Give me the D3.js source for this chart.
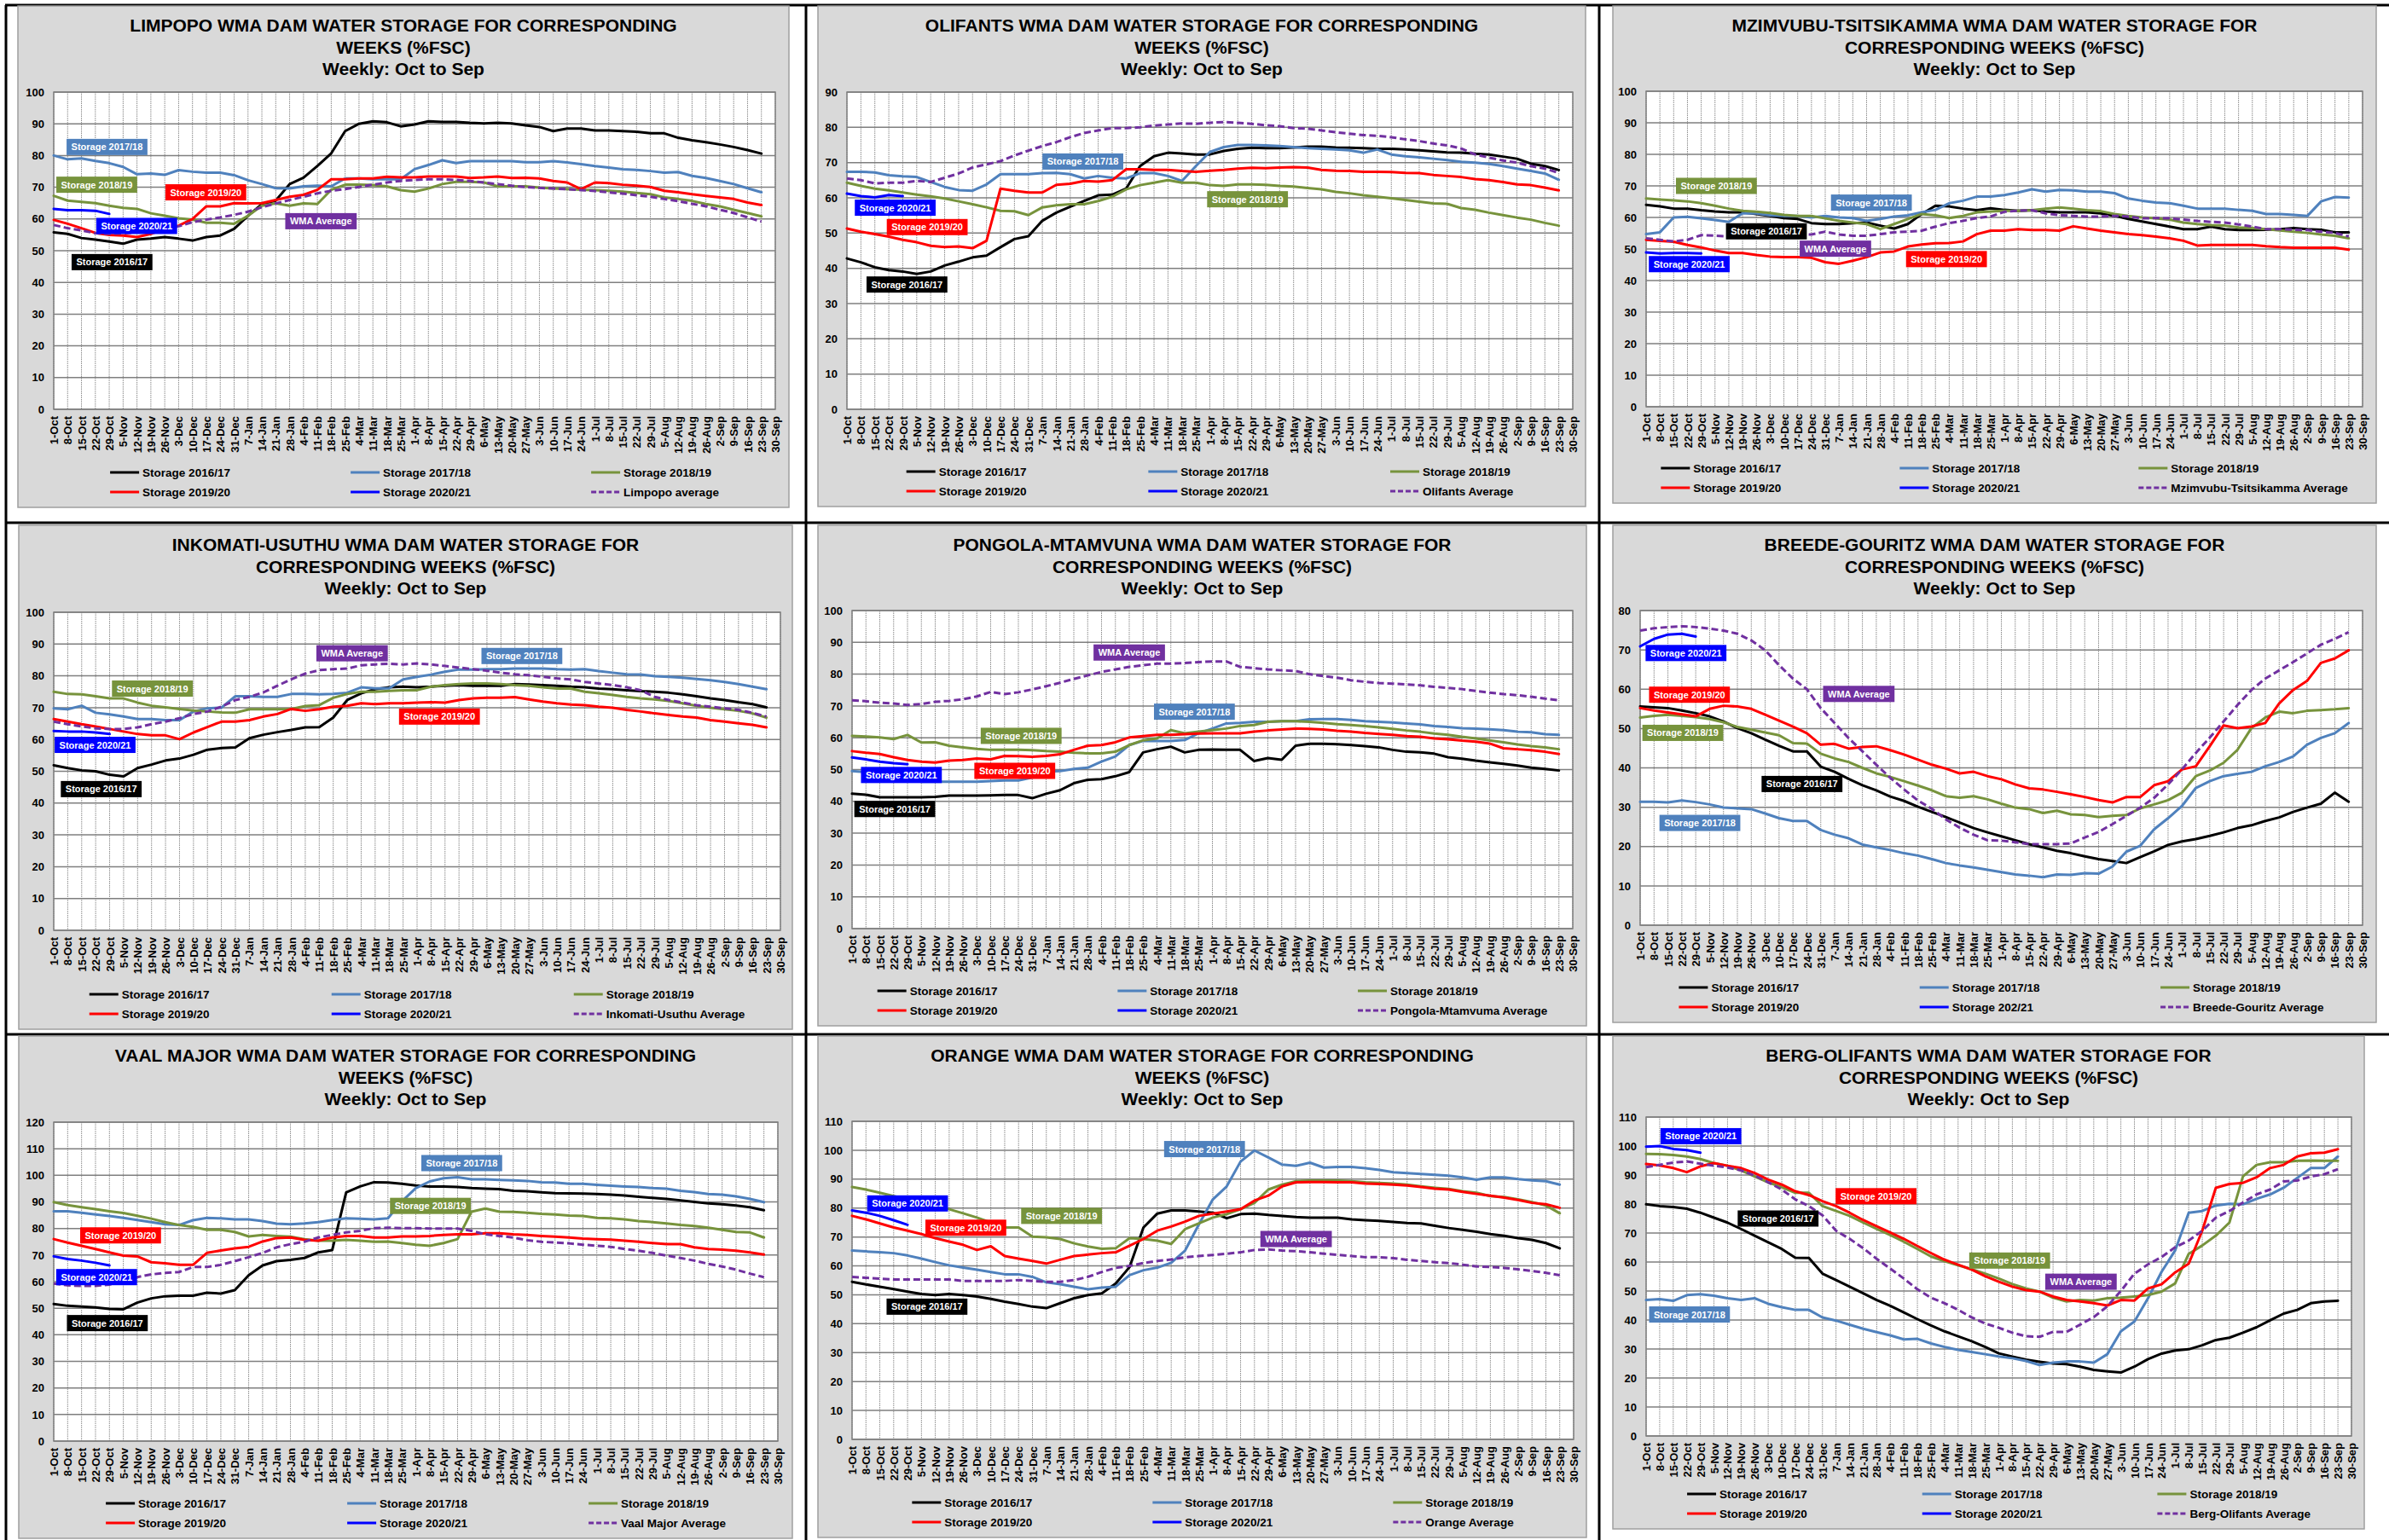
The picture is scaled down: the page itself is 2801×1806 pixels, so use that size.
<!DOCTYPE html>
<html>
<head>
<meta charset="utf-8">
<script src="https://cdn.jsdelivr.net/npm/d3@7"></script>
<style>
  html, body { margin: 0; padding: 0; background: #ffffff; }
  svg { display: block; }
  text { font-family: "Liberation Sans", Arial, sans-serif; font-weight: bold; }
</style>
</head>
<body>
<svg id="chart" width="2801" height="1806"></svg>
<script>
// ---------- categories ----------
const weeks = ["1-Oct","8-Oct","15-Oct","22-Oct","29-Oct","5-Nov","12-Nov","19-Nov","26-Nov","3-Dec",
  "10-Dec","17-Dec","24-Dec","31-Dec","7-Jan","14-Jan","21-Jan","28-Jan","4-Feb","11-Feb",
  "18-Feb","25-Feb","4-Mar","11-Mar","18-Mar","25-Mar","1-Apr","8-Apr","15-Apr","22-Apr",
  "29-Apr","6-May","13-May","20-May","27-May","3-Jun","10-Jun","17-Jun","24-Jun","1-Jul",
  "8-Jul","15-Jul","22-Jul","29-Jul","5-Aug","12-Aug","19-Aug","26-Aug","2-Sep","9-Sep",
  "16-Sep","23-Sep","30-Sep"];
const seasons = ["Storage 2016/17","Storage 2017/18","Storage 2018/19","Storage 2019/20","Storage 2020/21"];

// ---------- Limpopo ----------
const limpopo_1617 = [55.8,55.3,54.0,53.5,52.9,52.2,53.5,53.8,54.3,53.8, 53.2,54.3,54.8,56.9,61.0,64.7,65.8,71.0,73.0,76.7, 80.7,87.7,90.0,90.8,90.5,89.2,89.8,90.8,90.6,90.6, 90.3,90.1,90.3,90.1,89.5,89.0,87.7,88.5,88.5,87.9, 87.9,87.7,87.5,87.0,87.0,85.6,84.8,84.2,83.5,82.7, 81.7,80.6];
const limpopo_1718 = [80.0,78.8,79.1,78.3,77.6,76.4,74.1,74.3,73.9,75.4, 74.9,74.6,74.6,73.8,72.2,71.0,69.7,69.6,70.3,70.5, 70.3,72.8,72.8,72.5,72.5,72.5,75.7,77.0,78.5,77.6, 78.2,78.2,78.2,78.2,77.9,77.9,78.2,77.8,77.3,76.7, 76.2,75.7,75.5,75.1,74.6,74.8,73.6,72.9,72.0,71.0, 69.7,68.4];
const limpopo_1819 = [67.3,65.8,65.4,65.0,64.2,63.5,63.2,61.8,61.0,60.2, 59.8,58.8,58.8,58.5,61.0,64.2,64.9,64.2,64.9,64.7, 69.2,70.8,70.8,70.7,70.3,69.1,68.6,69.6,71.0,71.7, 71.7,71.5,70.3,70.3,70.3,69.9,69.6,69.4,69.2,69.1, 68.9,68.6,68.2,67.8,66.8,66.3,65.7,64.7,64.0,62.9, 61.9,60.8];
const limpopo_1920 = [59.7,58.5,57.1,55.6,55.0,54.8,54.3,55.3,56.9,57.9, 60.0,64.0,64.0,65.0,64.9,65.0,66.0,67.0,67.6,69.2, 72.5,72.5,72.8,72.8,73.3,73.1,73.1,73.4,73.4,73.4, 72.9,73.1,73.4,72.9,73.0,72.8,72.0,71.5,69.4,71.5, 71.3,70.8,70.5,70.1,68.9,68.4,67.8,67.3,66.8,66.3, 65.2,64.4];
const limpopo_2021 = [63.2,62.8,62.8,62.6,61.6];
const limpopo_avg  = [58.1,57.1,56.4,55.5,55.3,55.5,55.8,56.4,56.9,57.7, 59.0,59.8,60.5,61.3,62.3,63.7,64.9,66.0,67.0,68.1, 68.9,69.4,70.1,70.8,71.5,72.0,72.3,72.5,72.5,72.3, 72.0,71.5,71.0,70.5,70.1,69.8,69.6,69.4,69.1,68.8, 68.4,68.0,67.5,67.0,66.3,65.6,64.8,64.0,62.9,61.9, 60.5,59.2];

// ---------- Olifants ----------
const olifants_1617 = [42.8,41.7,40.3,39.5,39.1,38.4,39.1,40.8,41.9,43.1, 43.6,46.0,48.3,49.1,53.5,55.8,57.5,59.1,60.7,60.9, 62.6,69.0,71.8,72.8,72.6,72.3,72.3,73.3,73.9,74.2, 74.1,74.1,74.3,74.5,74.5,74.3,74.2,74.1,73.9,73.9, 73.7,73.5,73.2,72.9,72.8,72.5,72.3,71.7,71.1,69.7, 69.0,67.9];
const olifants_1718 = [67.4,67.4,67.2,66.4,66.1,65.9,64.5,63.1,62.2,62.0, 63.8,66.7,66.7,66.7,67.0,67.1,66.7,65.5,66.2,65.7, 65.5,67.0,67.0,66.2,64.8,69.0,73.0,74.4,75.0,75.0, 74.9,74.7,74.4,74.1,73.9,73.7,73.5,72.8,73.7,72.3, 71.8,71.5,71.1,70.7,70.2,70.0,69.6,69.0,68.3,67.6, 66.9,65.1];
const olifants_1819 = [64.3,63.4,62.6,62.1,61.5,60.9,60.4,59.8,59.0,58.2, 57.3,56.3,56.2,55.1,57.3,57.9,58.2,58.2,59.1,60.3, 62.4,63.6,64.3,65.0,64.3,64.3,63.6,63.4,63.8,63.8, 63.7,63.4,63.2,62.8,62.4,61.7,61.3,60.7,60.3,59.9, 59.4,58.9,58.4,58.3,57.1,56.6,55.8,55.1,54.4,53.8, 52.9,52.1];
const olifants_1920 = [51.3,50.4,49.7,49.0,48.1,47.4,46.4,46.0,46.2,45.7, 47.8,62.6,62.0,61.5,61.5,63.7,64.0,64.8,64.6,65.0, 68.1,68.1,67.9,67.9,67.6,67.4,67.7,67.9,68.3,68.5, 68.4,68.6,68.7,68.6,67.9,67.7,67.6,67.4,67.4,67.3, 67.1,67.0,66.5,66.2,65.9,65.3,65.0,64.5,63.8,63.6, 62.9,62.1];
const olifants_2021 = [61.2,60.5,60.1,60.8,60.5];
const olifants_avg  = [65.5,65.0,64.1,64.3,64.3,64.8,64.5,65.7,66.9,68.6, 69.5,70.4,72.0,73.4,74.7,75.8,77.2,78.4,79.1,79.8, 79.8,80.0,80.5,80.8,81.1,81.0,81.3,81.5,81.3,81.0, 80.6,80.3,79.8,79.6,79.1,78.6,78.2,77.8,77.6,77.2, 76.6,76.1,75.4,74.9,74.0,72.3,71.4,70.6,70.0,69.0, 68.3,67.1];

// ---------- Mzimvubu-Tsitsikamma ----------
const mzimvubu_1617 = [64.0,63.5,62.8,62.8,62.3,61.9,61.6,61.6,61.1,60.5, 59.8,59.5,58.2,57.9,57.9,58.2,58.4,57.4,56.5,57.9, 61.1,63.7,63.5,62.8,62.3,62.9,62.4,62.1,62.3,61.9, 61.6,61.6,61.6,61.3,60.5,59.5,58.7,57.9,57.1,56.3, 56.3,57.1,56.3,56.0,56.0,56.1,56.3,56.6,56.3,56.1, 55.3,55.3];
const mzimvubu_1718 = [54.7,55.3,60.0,60.2,59.7,59.2,58.6,61.3,61.3,60.7, 60.5,60.5,60.0,60.5,60.0,59.8,58.9,59.5,60.3,60.7, 61.6,62.4,64.5,65.3,66.6,66.6,67.1,67.9,68.9,68.2, 68.7,68.6,68.2,68.2,67.7,66.0,65.3,64.7,64.5,63.7, 62.8,62.8,62.8,62.4,62.1,61.1,61.1,60.8,60.5,65.1, 66.5,66.3];
const mzimvubu_1819 = [66.0,65.7,65.4,65.1,64.5,63.7,62.8,62.1,61.8,61.4, 60.8,60.5,60.5,59.7,58.9,58.4,57.9,56.3,57.9,59.5, 61.1,60.7,59.8,60.5,61.6,61.9,62.1,62.1,62.3,62.8, 63.2,62.8,62.3,62.0,61.1,60.5,60.0,59.7,59.3,58.4, 57.9,57.6,57.4,56.8,56.6,56.3,55.9,55.5,55.1,54.6, 54.2,53.4];
const mzimvubu_1920 = [52.9,52.6,52.3,51.3,50.5,49.5,48.7,48.7,48.1,47.6, 47.4,47.4,47.2,45.8,45.3,46.3,47.4,48.9,49.2,50.8, 51.4,51.8,51.9,52.4,54.7,55.8,55.8,56.3,56.0,56.0, 55.8,57.2,56.5,55.8,55.3,54.7,54.4,53.9,53.4,52.6, 51.1,51.3,51.3,51.3,51.3,50.9,50.6,50.4,50.4,50.4, 50.4,49.8];
const mzimvubu_2021 = [48.9,48.6,48.7,48.7,48.6];
const mzimvubu_avg  = [53.4,52.9,52.4,52.9,54.4,54.2,54.0,54.5,54.5,54.5, 54.7,54.7,54.6,55.5,54.6,54.2,54.2,54.7,55.3,55.5, 55.8,57.1,58.2,58.9,59.8,60.3,61.8,62.1,62.3,61.3, 60.7,60.5,60.3,60.3,60.5,60.3,59.7,59.8,59.7,59.3, 58.9,58.6,58.4,57.8,57.1,56.3,56.3,56.1,56.0,55.5, 55.1,54.0];

// ---------- Inkomati-Usuthu ----------
const inkomati_1617 = [51.9,51.0,50.3,50.0,48.9,48.4,51.0,52.1,53.4,54.0, 55.2,56.8,57.3,57.5,60.4,61.5,62.3,63.0,63.8,63.9, 66.9,72.4,74.5,75.8,76.4,76.6,76.4,76.6,76.9,77.1, 76.9,76.9,76.9,77.4,77.3,77.1,76.9,76.6,76.4,76.0, 75.8,75.5,75.2,75.0,74.7,74.2,73.6,72.9,72.4,71.7, 71.1,70.1];
const inkomati_1718 = [69.8,69.5,70.6,68.4,67.9,67.2,66.4,66.4,66.1,66.1, 68.8,69.8,70.0,73.6,73.6,73.4,73.4,74.3,74.3,74.2, 74.3,74.7,76.4,76.1,76.1,78.9,79.7,80.4,81.3,82.0, 82.0,82.1,82.1,82.3,82.3,82.3,82.1,82.0,82.1,81.5, 81.0,80.5,80.4,79.9,79.7,79.4,79.0,78.6,78.1,77.4, 76.6,75.8];
const inkomati_1819 = [75.0,74.3,74.2,73.6,72.9,72.9,71.6,70.6,70.1,69.6, 69.1,68.8,68.5,68.4,69.5,69.5,69.5,69.6,70.5,70.8, 73.1,74.3,75.0,75.0,75.3,75.5,75.5,76.6,77.1,77.4, 77.6,77.6,77.4,77.1,76.9,76.4,76.0,76.0,75.0,74.5, 74.0,73.4,72.9,72.6,72.1,71.4,70.6,70.0,69.5,69.0, 68.2,66.9];
const inkomati_1920 = [66.4,65.6,64.8,64.1,63.3,62.5,61.7,61.3,61.3,60.1, 62.2,63.9,65.6,65.6,66.1,67.2,68.0,69.6,69.0,69.5, 70.3,70.6,71.4,71.1,71.4,71.4,71.6,71.7,71.6,72.4, 72.9,73.1,73.1,73.3,72.6,71.9,71.4,71.0,70.8,70.3, 70.0,69.3,68.8,68.2,67.7,67.2,66.9,66.1,65.6,65.1, 64.6,63.8];
const inkomati_2021 = [62.7,62.5,62.5,62.2,61.7];
const inkomati_avg  = [65.6,64.8,64.1,63.5,63.3,63.3,63.8,64.8,65.6,66.7, 68.0,68.8,70.3,72.4,73.4,74.8,76.9,78.9,80.7,81.8, 82.1,82.3,83.3,83.6,83.8,83.6,83.9,83.6,83.1,82.6, 82.1,81.6,81.0,80.5,80.2,79.7,79.2,78.9,78.1,77.6, 77.1,76.4,75.5,73.4,72.4,71.6,70.8,70.3,69.8,69.3, 68.4,67.2];

// ---------- Pongola-Mtamvuna ----------
const pongola_1617 = [42.4,42.1,41.3,41.3,41.3,41.3,41.4,41.8,41.8,41.8, 41.9,42.0,42.0,41.0,42.4,43.5,45.7,46.8,47.0,47.9, 49.2,55.4,56.4,57.2,55.4,56.2,56.3,56.2,56.2,52.7, 53.6,53.1,57.5,58.1,58.1,58.0,57.7,57.4,57.0,56.2, 55.6,55.4,55.0,53.9,53.4,52.8,52.3,51.8,51.3,50.6, 50.2,49.7];
const pongola_1718 = [49.5,49.2,48.5,47.8,47.1,46.2,46.2,46.2,46.2,46.2, 46.4,46.6,46.6,47.5,49.4,49.5,50.2,50.6,52.5,54.1, 57.7,59.0,59.0,59.0,59.3,61.4,62.9,64.5,64.7,65.0, 65.0,65.2,65.2,65.8,65.9,65.9,65.6,65.2,65.0,64.8, 64.5,64.2,63.7,63.4,63.0,62.9,62.7,62.4,61.9,61.7, 61.1,60.9];
const pongola_1819 = [60.6,60.4,60.1,59.6,60.9,58.5,58.6,57.5,57.0,56.5, 56.2,56.2,56.2,56.1,55.8,55.6,55.3,55.1,55.1,55.6, 57.7,59.2,59.8,62.4,61.4,61.9,62.4,62.9,63.7,64.0, 65.0,65.2,65.2,65.0,64.7,64.3,64.0,63.7,63.3,62.8, 62.3,61.9,61.3,60.9,60.3,59.8,59.2,58.6,57.9,57.4, 57.0,56.4];
const pongola_1920 = [55.8,55.3,54.9,53.9,53.0,52.5,52.2,52.8,53.0,53.5, 53.2,54.3,54.2,54.0,54.3,54.8,56.2,57.5,57.7,58.6, 60.1,60.5,60.9,60.9,61.1,61.3,61.4,61.4,61.4,61.9, 62.3,62.6,62.9,62.8,62.6,62.2,61.9,61.5,61.2,60.9, 60.5,60.3,59.8,59.5,59.1,58.8,58.2,56.7,56.4,56.1, 55.6,54.9];
const pongola_2021 = [53.8,53.2,52.5,52.0,51.7];
const pongola_avg  = [71.8,71.5,71.0,70.8,70.3,70.6,71.3,71.6,72.1,73.0, 74.4,73.7,74.3,75.2,76.2,77.3,78.5,79.6,80.7,81.5, 82.3,82.8,83.3,83.3,83.5,83.8,84.0,84.0,82.3,81.9, 81.5,81.2,81.0,80.0,79.4,78.9,78.1,77.6,77.2,77.0, 76.8,76.5,76.0,75.7,75.3,74.7,74.2,73.7,73.4,72.9, 72.3,71.8];

// ---------- Breede-Gouritz ----------
const breede_1617 = [55.6,55.4,55.2,54.6,53.9,53.1,51.8,50.1,48.8,47.2, 45.6,44.2,44.2,40.3,39.0,37.2,35.6,34.3,32.7,31.6, 30.1,28.8,27.5,26.1,24.7,23.6,22.6,21.6,20.6,19.8, 18.9,18.3,17.5,16.8,16.3,15.8,17.3,18.8,20.4,21.3, 21.9,22.7,23.6,24.7,25.4,26.5,27.4,28.8,29.9,30.9, 33.7,31.4];
const breede_1718 = [31.4,31.4,31.2,31.7,31.3,30.7,29.9,29.7,29.5,28.4, 27.2,26.5,26.5,24.2,23.0,22.1,20.5,19.8,19.1,18.3, 17.7,16.8,15.8,15.2,14.7,14.1,13.5,12.9,12.6,12.2, 12.9,12.8,13.2,13.1,14.9,18.7,20.2,24.4,27.2,30.3, 34.9,36.6,37.9,38.5,39.0,40.4,41.5,42.9,45.9,47.6, 48.8,51.4];
const breede_1819 = [52.8,53.2,53.5,53.2,52.9,52.4,51.6,50.4,49.7,49.0, 48.3,46.3,46.2,43.6,42.4,41.5,40.0,38.6,37.7,36.6, 35.5,34.3,32.8,32.4,32.8,32.0,30.9,29.9,29.5,28.5, 29.1,28.2,28.0,27.5,27.8,28.0,29.7,30.7,31.8,33.7, 37.9,39.3,41.3,44.6,50.1,52.8,54.3,53.9,54.5,54.7, 54.9,55.2];
const breede_1920 = [55.2,54.6,54.1,53.6,53.1,55.0,55.8,55.6,55.0,53.5, 52.0,50.5,48.8,45.9,46.1,44.9,45.3,45.5,44.5,43.4, 42.1,40.8,39.8,38.6,39.0,37.9,37.1,35.8,34.8,34.5, 33.9,33.3,32.6,31.8,31.2,32.6,32.6,35.6,36.6,39.6, 40.4,45.5,50.8,50.1,50.5,51.4,56.4,59.8,62.1,66.7, 67.8,69.9];
const breede_2021 = [70.9,72.8,73.9,74.1,73.4];
const breede_avg  = [74.9,75.5,75.8,76.0,75.8,75.4,74.9,74.1,72.4,69.9, 66.1,62.7,60.0,55.2,51.4,47.6,44.2,40.8,37.5,34.5, 31.7,29.6,26.9,24.8,23.0,21.6,21.5,21.1,20.6,20.6, 20.6,20.8,22.3,23.7,25.7,27.8,29.9,32.4,35.8,39.6, 43.8,47.7,51.8,56.0,59.8,62.7,64.8,66.9,69.1,71.3, 72.8,74.5];

// ---------- Vaal Major ----------
const vaal_1617 = [51.6,50.9,50.6,50.3,49.7,49.6,52.1,53.7,54.5,54.7, 54.7,55.8,55.5,56.8,62.4,66.1,67.7,68.2,68.9,71.0, 71.9,93.6,95.8,97.4,97.3,96.8,96.2,95.8,95.8,95.6, 95.2,95.0,94.8,94.2,94.0,93.6,93.3,93.2,93.1,93.0, 92.7,92.4,91.9,91.5,91.1,90.6,90.0,89.4,89.1,88.6, 88.0,86.9];
const vaal_1718 = [86.5,86.5,85.9,85.3,84.7,84.0,83.2,82.4,81.6,81.3, 83.1,84.0,83.8,83.4,83.4,82.8,81.8,81.6,81.9,82.4, 83.2,83.8,83.7,83.4,83.8,90.2,95.2,97.7,98.9,99.3, 98.5,98.5,98.3,98.1,97.9,97.4,97.3,96.8,96.8,96.4, 96.1,95.8,95.6,95.2,95.0,94.2,93.7,93.0,92.7,92.1, 91.1,89.9];
const vaal_1819 = [89.9,88.8,88.0,87.3,86.5,85.8,84.8,83.7,82.4,81.3, 80.6,79.5,79.5,78.7,77.0,77.6,77.2,76.9,76.0,75.4, 75.4,75.7,75.4,75.0,75.1,74.5,73.9,73.5,74.5,76.0, 86.3,87.5,86.3,86.2,85.9,85.5,85.3,84.9,84.7,84.0, 83.8,83.4,82.8,82.4,81.9,81.3,80.9,80.3,79.5,78.7, 78.5,76.6];
const vaal_1920 = [76.0,74.7,73.5,72.3,71.0,69.8,69.5,67.3,66.9,66.3, 66.3,70.8,71.7,72.5,73.1,75.1,76.4,76.6,75.7,75.4, 76.6,77.2,77.2,76.6,76.6,77.0,77.0,77.2,77.6,77.8, 77.8,78.2,78.2,77.8,77.6,77.2,76.9,76.6,76.2,76.0, 75.8,75.4,75.0,74.5,74.1,74.1,72.9,72.3,72.0,71.6, 71.0,70.2];
const vaal_2021 = [69.5,68.5,67.9,67.1,66.1];
const vaal_avg  = [59.3,58.6,58.4,58.4,58.9,60.1,61.7,62.7,63.3,63.6, 65.5,65.5,66.3,67.7,69.2,70.8,72.9,74.1,75.0,76.6, 77.6,78.5,79.1,80.1,80.3,80.1,80.1,80.0,80.0,80.0, 79.1,77.8,77.2,76.6,75.6,75.0,74.7,74.4,73.9,73.5, 73.1,72.3,71.6,70.8,69.8,68.9,67.9,66.7,65.7,64.5, 63.0,61.7];

// ---------- Orange ----------
const orange_1617 = [54.5,53.6,52.8,52.0,51.1,50.3,49.9,50.3,49.9,49.4, 48.6,47.6,46.8,45.9,45.4,47.1,48.8,49.9,50.5,53.9, 59.6,73.3,78.1,79.2,79.2,78.8,78.4,76.5,77.9,78.1, 77.6,77.3,76.9,76.7,76.7,76.7,76.1,75.8,75.6,75.2, 74.8,74.7,73.9,73.1,72.5,71.8,71.0,70.4,69.6,69.0, 67.9,66.1];
const orange_1718 = [65.3,65.0,64.7,64.4,63.6,62.5,61.3,60.2,59.4,58.7, 57.9,57.1,57.1,56.2,54.3,53.7,52.8,51.9,52.5,52.8, 56.8,58.5,59.4,61.1,65.3,74.4,83.0,87.5,96.1,99.9, 97.5,95.0,94.6,95.7,94.0,94.2,94.2,93.8,93.2,92.4, 92.1,91.8,91.5,91.2,90.6,89.8,90.6,90.6,90.0,89.6, 89.3,88.1];
const orange_1819 = [87.3,86.4,85.3,84.1,83.0,81.8,80.9,79.6,78.2,76.7, 75.0,73.3,73.3,70.1,69.9,69.3,67.8,66.7,65.9,66.1, 69.6,69.3,68.7,67.6,72.7,74.7,76.7,77.9,79.6,81.8, 86.4,88.1,89.3,89.5,89.5,89.5,89.3,88.9,88.7,88.5, 88.1,87.5,87.0,86.6,85.8,85.3,84.1,83.8,83.0,82.1, 80.9,78.2];
const orange_1920 = [77.3,76.1,74.7,73.3,72.2,71.0,69.6,68.4,67.3,65.5, 66.8,63.4,62.5,61.7,60.8,62.1,63.4,63.9,64.4,64.7, 67.0,69.3,72.2,73.6,75.3,77.3,78.1,78.8,79.6,82.6, 84.3,87.5,88.9,89.0,89.0,88.9,88.9,88.5,88.3,88.1, 87.8,87.3,86.7,86.4,85.6,84.9,84.3,83.6,82.8,81.8, 81.3,80.1];
const orange_2021 = [79.2,78.4,77.3,75.8,74.2];
const orange_avg  = [56.2,55.9,55.6,55.3,55.3,55.3,55.3,55.3,54.8,54.8, 54.8,54.8,55.1,54.8,54.5,54.5,55.1,56.2,57.9,59.3, 60.0,61.0,61.7,62.2,63.0,63.4,63.8,64.2,64.7,65.5, 65.7,65.3,65.1,64.7,64.2,63.8,63.4,63.0,63.0,62.7, 62.1,61.7,61.3,61.0,60.4,59.8,59.6,59.3,58.8,58.2, 57.6,56.8];

// ---------- Berg-Olifants ----------
const berg_1617 = [79.9,79.3,79.0,78.4,77.0,75.3,73.6,71.4,69.1,66.8, 64.5,61.5,61.4,56.0,53.8,51.5,49.2,46.9,44.9,42.6, 40.3,38.1,36.1,34.4,32.7,30.7,28.5,27.4,26.3,25.6, 25.0,24.8,23.9,22.8,22.3,21.9,23.9,26.5,28.4,29.5, 29.9,31.3,33.1,33.9,35.6,37.5,39.9,42.2,43.5,45.8, 46.4,46.6];
const berg_1718 = [46.9,47.2,46.6,48.6,48.9,48.4,47.5,46.9,47.5,45.6, 44.4,43.5,43.5,40.9,39.8,38.4,37.0,35.8,34.7,33.3, 33.5,31.9,30.7,29.7,29.0,28.2,27.4,26.8,25.9,24.5, 25.3,25.7,25.7,25.3,28.2,36.1,39.5,47.5,56.6,64.0, 77.0,77.6,79.5,80.1,79.9,81.8,83.3,85.6,89.0,92.4, 92.4,96.4];
const berg_1819 = [97.3,97.2,96.9,96.4,95.5,94.1,93.2,91.6,89.5,87.5, 85.8,83.9,83.9,79.3,77.6,75.9,73.6,71.4,69.3,67.0, 64.5,61.9,60.3,58.9,57.5,56.0,54.3,52.4,50.9,49.8, 47.7,46.4,46.9,46.7,47.5,47.7,48.1,48.6,49.8,52.6, 62.8,65.7,69.1,73.6,89.5,93.5,94.4,94.4,94.9,95.0, 94.9,94.9];
const berg_1920 = [93.8,93.3,92.4,91.0,93.0,94.1,93.2,92.4,90.7,88.4, 86.7,84.4,83.1,81.0,79.3,77.0,74.5,72.3,70.2,68.0, 65.5,63.1,60.8,59.1,57.4,55.1,53.2,51.5,50.3,49.8, 48.1,46.9,46.4,45.8,45.0,46.9,46.7,50.9,52.3,56.4, 59.4,70.8,85.6,86.9,87.3,89.2,92.4,93.5,96.4,97.5, 97.7,98.9];
const berg_2021 = [99.8,100.0,99.0,98.6,97.7];
const berg_avg  = [92.7,93.5,94.3,94.7,93.9,93.2,92.6,91.6,89.8,87.5, 85.0,81.6,79.3,76.1,70.8,68.0,64.8,61.1,57.7,54.3, 50.6,47.7,45.8,43.5,40.9,38.8,37.3,35.6,34.4,34.2, 35.9,35.9,38.4,41.0,44.7,50.0,56.0,59.2,61.7,65.1, 67.4,70.8,75.3,77.6,80.5,83.3,85.0,87.8,88.1,89.5, 90.3,92.0];

// ---------- per-chart text ----------
const titles = [
  ["LIMPOPO WMA DAM WATER STORAGE FOR CORRESPONDING", "WEEKS (%FSC)"],
  ["OLIFANTS WMA DAM WATER STORAGE FOR CORRESPONDING", "WEEKS (%FSC)"],
  ["MZIMVUBU-TSITSIKAMMA WMA DAM WATER STORAGE FOR", "CORRESPONDING WEEKS (%FSC)"],
  ["INKOMATI-USUTHU WMA DAM WATER STORAGE FOR", "CORRESPONDING WEEKS (%FSC)"],
  ["PONGOLA-MTAMVUNA WMA DAM WATER STORAGE FOR", "CORRESPONDING WEEKS (%FSC)"],
  ["BREEDE-GOURITZ WMA DAM WATER STORAGE FOR", "CORRESPONDING WEEKS (%FSC)"],
  ["VAAL MAJOR WMA DAM WATER STORAGE FOR CORRESPONDING", "WEEKS (%FSC)"],
  ["ORANGE WMA DAM WATER STORAGE FOR CORRESPONDING", "WEEKS (%FSC)"],
  ["BERG-OLIFANTS WMA DAM WATER STORAGE FOR", "CORRESPONDING WEEKS (%FSC)"]
];
const subtitle = "Weekly: Oct to Sep";
const avgNames = ["Limpopo average", "Olifants Average", "Mzimvubu-Tsitsikamma Average",
  "Inkomati-Usuthu Average", "Pongola-Mtamvuma Average", "Breede-Gouritz Average",
  "Vaal Major Average", "Orange Average", "Berg-Olifants Average"];
const yMaxes = [100, 90, 100, 100, 100, 80, 120, 110, 110];

const seriesByChart = [
  [limpopo_1617, limpopo_1718, limpopo_1819, limpopo_1920, limpopo_2021, limpopo_avg],
  [olifants_1617, olifants_1718, olifants_1819, olifants_1920, olifants_2021, olifants_avg],
  [mzimvubu_1617, mzimvubu_1718, mzimvubu_1819, mzimvubu_1920, mzimvubu_2021, mzimvubu_avg],
  [inkomati_1617, inkomati_1718, inkomati_1819, inkomati_1920, inkomati_2021, inkomati_avg],
  [pongola_1617, pongola_1718, pongola_1819, pongola_1920, pongola_2021, pongola_avg],
  [breede_1617, breede_1718, breede_1819, breede_1920, breede_2021, breede_avg],
  [vaal_1617, vaal_1718, vaal_1819, vaal_1920, vaal_2021, vaal_avg],
  [orange_1617, orange_1718, orange_1819, orange_1920, orange_2021, orange_avg],
  [berg_1617, berg_1718, berg_1819, berg_1920, berg_2021, berg_avg]
];

// ---------- layout (pixels) ----------
// outer chart frames [x0, y0, x1, y1]
const frames = [
  [21, 7, 925, 595], [959, 7, 1859, 594], [1891, 7, 2786, 590],
  [22, 616, 929, 1207], [959, 616, 1860, 1203], [1891, 616, 2786, 1199],
  [22, 1215, 929, 1804], [959, 1215, 1860, 1803], [1891, 1215, 2772, 1793]
];
// plot areas [x0, y0, x1, y1]
const plots = [
  [63, 108, 909, 480], [993, 108, 1844, 480], [1930, 107, 2770, 477],
  [63, 718, 915, 1091], [999, 716, 1844, 1089], [1923, 716, 2770, 1085],
  [63, 1316, 912, 1690], [999, 1315, 1845, 1688], [1930, 1310, 2757, 1684]
];
// label boxes: [series key, week index, value] in chart coordinates
const callouts = [
  [["s1",3.84,82.7],["s2",3.1,70.8],["s3",10.96,68.4],["s4",5.98,57.8],["avg",19.26,59.3],["s0",4.2,46.4]],
  [["s1",16.9,70.3],["s4",3.46,57.2],["s3",5.75,51.7],["s0",4.3,35.4],["s2",28.7,59.6]],
  [["s2",5.1,70.0],["s1",16.35,64.7],["s0",8.73,55.6],["avg",13.74,50.1],["s4",3.13,45.2],["s3",21.8,46.8]],
  [["avg",21.35,87.1],["s1",33.5,86.25],["s2",7.06,76.0],["s3",27.6,67.2],["s4",2.96,58.3],["s0",3.4,44.4]],
  [["avg",20.0,86.8],["s1",24.7,68.2],["s2",12.2,60.6],["s4",3.56,48.3],["s3",11.74,49.6],["s0",3.08,37.6]],
  [["s4",3.3,69.2],["s3",3.55,58.6],["avg",15.74,58.8],["s2",3.07,48.9],["s0",11.65,35.9],["s1",4.3,26.0]],
  [["s1",29.3,104.6],["s2",27.05,88.5],["s3",4.8,77.4],["s4",3.08,61.7],["s0",3.85,44.4]],
  [["s1",25.4,100.4],["s4",4.0,81.6],["s2",15.1,77.3],["s3",8.2,73.2],["avg",32.0,69.3],["s0",5.4,45.9]],
  [["s4",4.04,103.4],["s3",16.95,82.7],["s0",9.73,75.0],["s2",26.8,60.5],["avg",32.06,53.2],["s1",3.2,41.9]]
];

const colors = ["#000000", "#4f81bd", "#77933c", "#ff0000", "#0000ff", "#7030a0"];
const keyIndex = { s0: 0, s1: 1, s2: 2, s3: 3, s4: 4, avg: 5 };

const svg = d3.select("#chart");
svg.append("rect").attr("width", 2801).attr("height", 1806).attr("fill", "#ffffff");

// document table rules around the charts
const rules = svg.append("g").attr("stroke", "#000").attr("stroke-width", 3);
[[7, 6, 7, 1806], [945, 6, 945, 1806], [1875, 6, 1875, 1806],
 [6, 6, 2801, 6], [6, 613, 2801, 613], [6, 1213, 2801, 1213]].forEach(([a, b, c, d]) =>
  rules.append("line").attr("x1", a).attr("y1", b).attr("x2", c).attr("y2", d));

titles.forEach((titleLines, k) => {
  const [fx0, fy0, fx1, fy1] = frames[k];
  const [px0, py0, px1, py1] = plots[k];
  const yMax = yMaxes[k];
  const series = seriesByChart[k];
  const g = svg.append("g");

  g.append("rect").attr("x", fx0).attr("y", fy0).attr("width", fx1 - fx0).attr("height", fy1 - fy0)
    .attr("fill", "#d9d9d9").attr("stroke", "#9f9f9f").attr("stroke-width", 1.5);

  const x = d3.scalePoint().domain(weeks).range([px0, px1]).padding(0);
  const step = (px1 - px0) / (weeks.length - 1);
  const y = d3.scaleLinear().domain([0, yMax]).range([py1, py0]);

  g.append("rect").attr("x", px0).attr("y", py0).attr("width", px1 - px0).attr("height", py1 - py0)
    .attr("fill", "#ffffff");

  // vertical gridlines, one per week
  g.append("g").selectAll("line").data(weeks).join("line")
    .attr("x1", d => x(d)).attr("x2", d => x(d)).attr("y1", py0).attr("y2", py1)
    .attr("stroke", "#8c8c8c").attr("stroke-width", 1).attr("stroke-dasharray", "1.5,1");

  // horizontal gridlines
  const yTicks = d3.range(0, yMax + 1, 10);
  g.append("g").selectAll("line").data(yTicks).join("line")
    .attr("x1", px0).attr("x2", px1).attr("y1", d => y(d)).attr("y2", d => y(d))
    .attr("stroke", "#7f7f7f").attr("stroke-width", 1.5);

  g.append("rect").attr("x", px0).attr("y", py0).attr("width", px1 - px0).attr("height", py1 - py0)
    .attr("fill", "none").attr("stroke", "#808080").attr("stroke-width", 1.5);

  // axes
  const yAxis = g.append("g").attr("transform", `translate(${px0},0)`)
    .call(d3.axisLeft(y).tickValues(yTicks).tickSize(0).tickPadding(11));
  yAxis.select(".domain").remove();
  yAxis.selectAll("text").attr("font-size", 13).attr("font-family", null).attr("fill", "#000");

  const xAxis = g.append("g").attr("transform", `translate(0,${py1})`)
    .call(d3.axisBottom(x).tickSize(0));
  xAxis.select(".domain").remove();
  xAxis.selectAll("text")
    .attr("font-size", 13).attr("font-family", null).attr("fill", "#000")
    .attr("transform", "rotate(-90)").attr("x", -8).attr("y", 0).attr("dy", "0.35em")
    .attr("text-anchor", "end");

  // series lines
  const line = d3.line().x((d, i) => x(weeks[i])).y(d => y(d));
  series.forEach((vals, s) => {
    g.append("path").datum(vals).attr("d", line)
      .attr("fill", "none").attr("stroke", colors[s]).attr("stroke-width", 3)
      .attr("stroke-linejoin", "round").attr("stroke-linecap", s === 5 ? "butt" : "round")
      .attr("stroke-dasharray", s === 5 ? "8,4" : null);
  });

  // title
  const cx = (fx0 + fx1) / 2;
  [titleLines[0], titleLines[1], subtitle].forEach((t, j) => {
    g.append("text").attr("x", cx).attr("y", fy0 + 22.5 + j * 25.5)
      .attr("text-anchor", "middle").attr("dominant-baseline", "central")
      .attr("font-size", 21).attr("fill", "#000").text(t);
  });

  // legend: two rows of three, centred under the plot
  const names = seasons.map(s => (k === 5 && s === "Storage 2020/21") ? "Storage 202/21" : s)
    .concat([avgNames[k]]);
  const colW = (px1 - px0) / 3;
  const leg = g.append("g");
  const probe = leg.append("text").attr("font-size", 13.5);
  const widthOf = t => { probe.text(t); return probe.node().getComputedTextLength(); };
  const lastCol = Math.max(widthOf(names[2]), widthOf(names[5]));
  probe.remove();
  const totalW = 2 * colW + 38 + lastCol;
  const lx0 = (px0 + px1) / 2 - totalW / 2;
  names.forEach((nm, j) => {
    const col = j % 3, row = Math.floor(j / 3);
    const lx = lx0 + col * colW, ly = fy1 - 41 + row * 23;
    leg.append("line").attr("x1", lx).attr("x2", lx + 34).attr("y1", ly).attr("y2", ly)
      .attr("stroke", colors[j]).attr("stroke-width", 3)
      .attr("stroke-dasharray", j === 5 ? "6,3" : null);
    leg.append("text").attr("x", lx + 38).attr("y", ly).attr("dominant-baseline", "central")
      .attr("font-size", 13.5).attr("fill", "#000").text(nm);
  });

  // label boxes on the plot
  callouts[k].forEach(([key, wi, v]) => {
    const s = keyIndex[key];
    const label = s === 5 ? "WMA Average" : seasons[s];
    const bx = px0 + wi * step, by = y(v);
    const box = g.append("g");
    const rect = box.append("rect").attr("fill", colors[s]);
    const txt = box.append("text").attr("x", bx).attr("y", by)
      .attr("text-anchor", "middle").attr("dominant-baseline", "central")
      .attr("font-size", 11).attr("fill", "#ffffff").text(label);
    const w = txt.node().getComputedTextLength() + 11;
    rect.attr("x", bx - w / 2).attr("y", by - 9.5).attr("width", w).attr("height", 19);
  });
});
</script>
</body>
</html>
